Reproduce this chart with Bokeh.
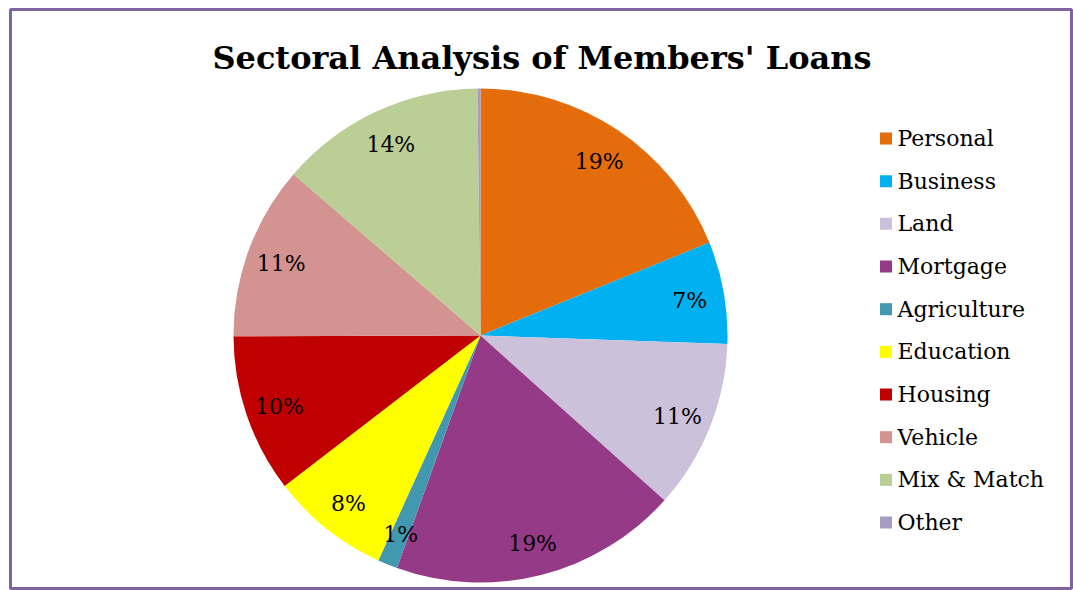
import numpy as np
from bokeh.plotting import figure
from bokeh.models import ColumnDataSource, Range1d, Label
from bokeh.embed import file_html
from bokeh.resources import INLINE
from bokeh.core.properties import value

title_text = "Sectoral Analysis of Members' Loans"
categories = ["Personal", "Business", "Land", "Mortgage", "Agriculture",
              "Education", "Housing", "Vehicle", "Mix & Match", "Other"]
shares = [18.9, 6.7, 11.1, 18.9, 1.3, 7.8, 10.4, 11.4, 13.5, 0.2]
pct_labels = ["19%", "7%", "11%", "19%", "1%", "8%", "10%", "11%", "14%", ""]
colors = ["#E46C0A", "#00B0F0", "#CCC1DA", "#953A87", "#4198AF",
          "#FFFF00", "#C00000", "#D39390", "#BACE96", "#A79CC2"]

W, H = 1073, 590
cx, cy, R = 480, H - 335, 247
label_r = 0.86 * R

vals = np.array(shares, dtype=float)
frac = vals / vals.sum()
cum = np.concatenate([[0], np.cumsum(frac)])
start = np.pi / 2 - cum[:-1] * 2 * np.pi
end = np.pi / 2 - cum[1:] * 2 * np.pi
mid = (start + end) / 2

src = ColumnDataSource(dict(
    cat=categories, color=colors, start=start, end=end,
    lx=cx + label_r * np.cos(mid), ly=cy - 2 + label_r * np.sin(mid),
    lab=pct_labels,
))

p = figure(width=W, height=H, output_backend="svg", toolbar_location=None,
           x_range=Range1d(10, W - 2), y_range=Range1d(2, H - 9),
           x_axis_location=None, y_axis_location=None,
           min_border_left=10, min_border_right=2, min_border_top=9, min_border_bottom=2)
p.grid.visible = False
p.outline_line_color = "#8064A2"
p.outline_line_width = 3
p.background_fill_color = "white"
p.border_fill_color = "white"

p.wedge(x=cx, y=cy, radius=R, start_angle="start", end_angle="end",
        direction="clock", fill_color="color", line_color=None, source=src)

p.text(x="lx", y="ly", text="lab", source=src, text_align="center",
       text_baseline="middle", text_font=value("DejaVu Serif"),
       text_font_size="22px", text_color="black")

# legend
n = len(categories)
leg_y = H - (138 + np.arange(n) * 42.67)
leg_src = ColumnDataSource(dict(x=[885.5] * n, tx=[897] * n, y=leg_y,
                                color=colors, cat=categories))
p.rect(x="x", y="y", width=12, height=12, fill_color="color", line_color=None,
       source=leg_src)
p.text(x="tx", y="y", text="cat", source=leg_src, text_align="left",
       text_baseline="middle", text_font=value("DejaVu Serif"),
       text_font_size="22px", text_color="black")

p.add_layout(Label(x=541.5, y=H - 57, text=title_text, text_align="center",
                   text_baseline="alphabetic", text_font="DejaVu Serif",
                   text_font_style="bold", text_font_size="32px",
                   text_color="black"))

open("out.html", "w").write(file_html(p, INLINE))
